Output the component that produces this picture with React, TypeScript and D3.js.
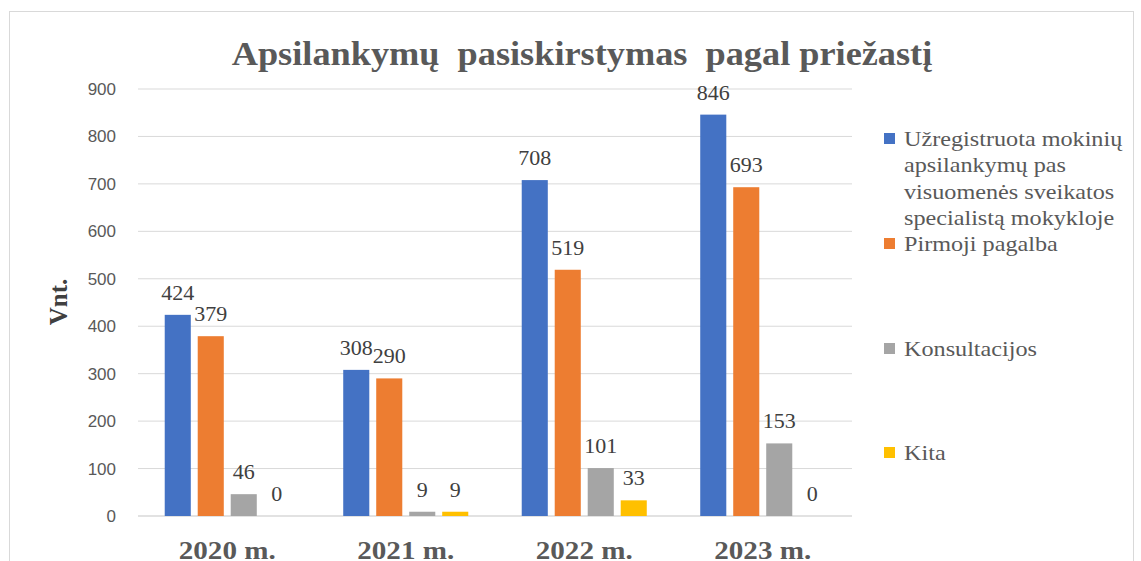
import React from 'react';
import * as d3 from 'd3';

const years = ["2020 m.", "2021 m.", "2022 m.", "2023 m."];
const seriesNames = [
    "Užregistruota mokinių apsilankymų pas visuomenės sveikatos specialistą mokykloje",
    "Pirmoji pagalba",
    "Konsultacijos",
    "Kita"
];
const legendLines = [
    ["Užregistruota mokinių", "apsilankymų pas", "visuomenės sveikatos", "specialistą mokykloje"],
    ["Pirmoji pagalba"],
    ["Konsultacijos"],
    ["Kita"]
];
const registered = [424, 308, 708, 846];
const firstAid = [379, 290, 519, 693];
const consultations = [46, 9, 101, 153];
const other = [0, 9, 33, 0];
const yTicks = [0, 100, 200, 300, 400, 500, 600, 700, 800, 900];
const colors = ["#4472C4", "#ED7D31", "#A5A5A5", "#FFC000"];

const allSeries = [registered, firstAid, consultations, other];

const serif = "'Liberation Serif', 'Times New Roman', serif";
const sans = "'Liberation Sans', Arial, sans-serif";

// reference text is a little wider than the font, so stretch it sideways
function WideText({ x, y, sx = 1.1, children, ...rest }: any) {
    return (
        <text transform={`translate(${x},${y}) scale(${sx},1)`} {...rest}>{children}</text>
    );
}

export default function App() {
    const W = 1141, H = 561;
    const plot = { left: 138, right: 852, top: 89, bottom: 516 };

    const x0 = d3.scaleBand().domain(years).range([plot.left, plot.right]);
    const x1 = d3.scaleBand<number>().domain([0, 1, 2, 3])
        .range([0, x0.bandwidth()]).paddingInner(0.21).paddingOuter(0.81);
    const y = d3.scaleLinear().domain([0, 900]).range([plot.bottom, plot.top]);

    const legendY = [146, 251, 356, 460];

    return (
        <svg width={W} height={H} style={{ position: 'absolute', left: 0, top: 0, background: '#fff' }}>
            <rect x={9.5} y={11.5} width={1124} height={600} fill="none" stroke="#d9d9d9" strokeWidth={1} />

            <WideText x={582} y={65} textAnchor="middle" fontFamily={serif} fontWeight="bold" fontSize={33}
                fill="#595959" style={{ whiteSpace: 'pre' }}>
                {"Apsilankymų  pasiskirstymas  pagal priežastį"}
            </WideText>

            {yTicks.map(t => (
                <g key={t}>
                    <line x1={plot.left} x2={plot.right} y1={y(t)} y2={y(t)} stroke="#d9d9d9" strokeWidth={t === 0 ? 1.5 : 1} />
                    <text x={116} y={y(t)} dy="0.35em" textAnchor="end" fontFamily={sans} fontSize={17} fill="#595959">{t}</text>
                </g>
            ))}

            <text transform="translate(67,302) rotate(-90)" textAnchor="middle" fontFamily={serif}
                fontWeight="bold" fontSize={25} fill="#404040">Vnt.</text>

            {years.map((yr, i) => (
                <g key={yr} transform={`translate(${x0(yr)},0)`}>
                    {allSeries.map((s, j) => {
                        const v = s[i];
                        const bx = x1(j) as number;
                        const bw = x1.bandwidth();
                        return (
                            <g key={j}>
                                <rect x={bx} y={y(v)} width={bw} height={plot.bottom - y(v)} fill={colors[j]} />
                                <WideText x={bx + bw / 2} y={y(v) - 15} textAnchor="middle" fontFamily={serif}
                                    fontSize={20} fill="#404040">{v}</WideText>
                            </g>
                        );
                    })}
                    <WideText x={x0.bandwidth() / 2} y={559} sx={1.12} textAnchor="middle" fontFamily={serif}
                        fontWeight="bold" fontSize={26} fill="#595959">{yr}</WideText>
                </g>
            ))}

            {seriesNames.map((name, j) => (
                <g key={name}>
                    <rect x={884} y={legendY[j] - 13} width={11} height={11} fill={colors[j]} />
                    {legendLines[j].map((ln, k) => (
                        <WideText key={k} x={904} y={legendY[j] + k * 26.3} fontFamily={serif}
                            fontSize={22} fill="#595959">{ln}</WideText>
                    ))}
                </g>
            ))}
        </svg>
    );
}
